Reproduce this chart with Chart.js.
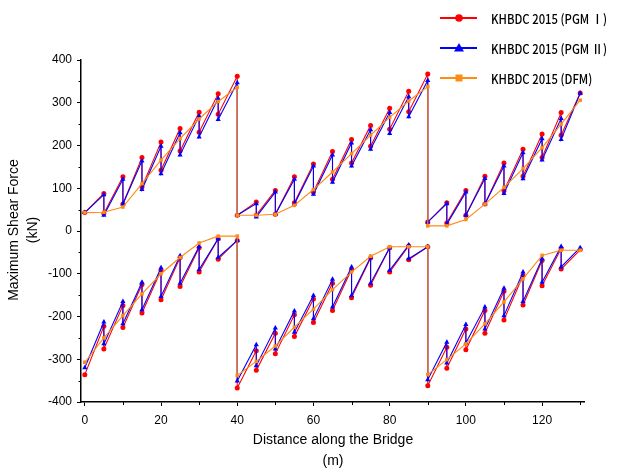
<!DOCTYPE html>
<html>
<head>
<meta charset="utf-8">
<script src="https://cdn.jsdelivr.net/npm/chart.js@4.4.1/dist/chart.umd.min.js"></script>
<style>
  html, body { margin: 0; padding: 0; background: #fff; }
  #wrap { width: 619px; height: 470px; }
</style>
</head>
<body>
<div id="wrap"><canvas id="shearChart" width="619" height="470"></canvas></div>
<script>
// stations along the bridge (m)
var stations = [0, 5, 10, 15, 20, 25, 30, 35, 40, 45, 50, 55, 60, 65, 70, 75, 80, 85, 90, 95, 100, 105, 110, 115, 120, 125, 130];
var xTicks = [0, 20, 40, 60, 80, 100, 120];
var yTicks = [-400, -300, -200, -100, 0, 100, 200, 300, 400];
var seriesNames = ['KHBDC 2015 (PGM \u2160)', 'KHBDC 2015 (PGM \u2161)', 'KHBDC 2015 (DFM)'];

// shear force just left / just right of each station (kN)
// PGM I
var pgm1PosLeft  = [43, 88, 127, 172, 208, 240, 278, 321, 362, 68, 95, 127, 157, 186, 214, 247, 287, 327, 367, 66, 95, 128, 159, 191, 227, 277, 323];
var pgm1PosRight = [43, 41, 63, 103, 142, 187, 231, 273, 37, 37, 39, 66, 91, 121, 159, 198, 238, 279, 21, 19, 37, 63, 94, 128, 172, 224, 323];
var pgm1NegLeft  = [-336, -223, -174, -125, -92, -62, -39, -18, -22, -280, -239, -196, -159, -122, -90, -63, -39, -35, -37, -272, -229, -186, -141, -104, -69, -41, -44];
var pgm1NegRight = [-336, -276, -226, -192, -161, -130, -96, -66, -367, -326, -287, -247, -214, -186, -156, -127, -96, -67, -362, -321, -278, -239, -208, -173, -128, -89, -44];

// PGM II
var pgm2PosLeft  = [43, 85, 121, 164, 198, 230, 269, 310, 347, 64, 91, 121, 152, 178, 206, 237, 277, 314, 352, 64, 91, 123, 152, 183, 216, 263, 322];
var pgm2PosRight = [43, 37, 63, 97, 134, 178, 220, 261, 37, 33, 39, 63, 86, 114, 152, 191, 228, 267, 21, 16, 37, 63, 88, 122, 166, 214, 322];
var pgm2NegLeft  = [-320, -213, -165, -120, -86, -58, -36, -18, -22, -266, -227, -187, -151, -113, -84, -61, -39, -33, -37, -260, -219, -178, -134, -96, -65, -36, -39];
var pgm2NegRight = [-320, -264, -217, -184, -153, -122, -90, -62, -351, -315, -276, -237, -205, -178, -151, -122, -92, -65, -348, -309, -262, -229, -198, -165, -120, -84, -39];

// DFM
var dfmPosLeft  = [43, 44, 56, 111, 166, 216, 262, 303, 336, 37, 39, 60, 97, 138, 181, 224, 266, 304, 338, 12, 27, 63, 102, 146, 195, 250, 306];
var dfmPosRight = [43, 44, 56, 111, 166, 216, 262, 303, 37, 37, 39, 60, 97, 138, 181, 224, 266, 304, 12, 12, 27, 63, 102, 146, 195, 250, 306];
var dfmNegLeft  = [-307, -250, -198, -147, -100, -62, -28, -12, -12, -305, -269, -225, -183, -137, -96, -59, -37, -37, -37, -301, -264, -217, -166, -112, -57, -45, -45];
var dfmNegRight = [-307, -250, -198, -147, -100, -62, -28, -12, -338, -305, -269, -225, -183, -137, -96, -59, -37, -37, -336, -301, -264, -217, -166, -112, -57, -45, -45];

var colors = ['#ff0000', '#0000ff', '#ff8a14'];
var markers = ['circle', 'triangle', 'rect'];

// turn left/right values into a stepped path, positive then negative envelope
function buildPath(left, right, pts) {
  stations.forEach(function (x, i) {
    pts.push({ x: x, y: left[i] });
    if (right[i] !== left[i]) pts.push({ x: x, y: right[i] });
  });
  return pts;
}
function envelope(pL, pR, nL, nR) {
  var pts = buildPath(pL, pR, []);
  pts.push({ x: stations[stations.length - 1], y: null });
  return buildPath(nL, nR, pts);
}

var series = [
  envelope(pgm1PosLeft, pgm1PosRight, pgm1NegLeft, pgm1NegRight),
  envelope(pgm2PosLeft, pgm2PosRight, pgm2NegLeft, pgm2NegRight),
  envelope(dfmPosLeft, dfmPosRight, dfmNegLeft, dfmNegRight)
];
// red at the bottom, then blue, DFM on top
var drawOrder = [3, 2, 1];

var datasets = series.map(function (pts, i) {
  return {
    label: seriesNames[i],
    data: pts,
    borderColor: colors[i],
    backgroundColor: colors[i],
    borderWidth: 1.1,
    pointStyle: markers[i],
    pointRadius: i === 1 ? 3 : 2.5,
    pointBorderWidth: 0,
    tension: 0,
    spanGaps: false,
    order: drawOrder[i]
  };
});

// minor ticks, axis titles and legend
var extras = {
  id: 'extras',
  afterDraw: function (chart) {
    var ctx = chart.ctx;
    var xs = chart.scales.x, ys = chart.scales.y;
    var area = chart.chartArea;
    ctx.save();
    ctx.strokeStyle = '#000';
    ctx.lineWidth = 1;
    ctx.beginPath();
    for (var v = -350; v <= 350; v += 100) {
      var py = Math.round(ys.getPixelForValue(v)) + 0.5;
      ctx.moveTo(area.left - 2.5, py);
      ctx.lineTo(area.left, py);
    }
    for (var m = 10; m <= 130; m += 20) {
      var px = Math.round(xs.getPixelForValue(m)) + 0.5;
      ctx.moveTo(px, area.bottom);
      ctx.lineTo(px, area.bottom + 3);
    }
    ctx.stroke();

    ctx.fillStyle = '#000';
    ctx.font = '14px "Liberation Sans", Arial, sans-serif';
    ctx.textAlign = 'center';
    ctx.textBaseline = 'middle';
    ctx.fillText('Distance along the Bridge', 333, 440);
    ctx.fillText('(m)', 333, 461);
    ctx.save();
    ctx.translate(14, 230);
    ctx.rotate(-Math.PI / 2);
    ctx.fillText('Maximum Shear Force', 0, 0);
    ctx.restore();
    ctx.save();
    ctx.translate(33, 230);
    ctx.rotate(-Math.PI / 2);
    ctx.fillText('(kN)', 0, 0);
    ctx.restore();

    // legend
    var rowsY = [18, 48, 78];
    ctx.textAlign = 'left';
    ctx.font = '500 13px "Noto Sans CJK KR", "Noto Sans", sans-serif';
    rowsY.forEach(function (y, i) {
      ctx.strokeStyle = colors[i];
      ctx.fillStyle = colors[i];
      ctx.lineWidth = 2;
      ctx.beginPath();
      ctx.moveTo(440, y);
      ctx.lineTo(477, y);
      ctx.stroke();
      ctx.beginPath();
      if (i === 0) {
        ctx.arc(459, y, 3.8, 0, Math.PI * 2);
      } else if (i === 1) {
        ctx.moveTo(459, y - 5);
        ctx.lineTo(464, y + 3.5);
        ctx.lineTo(454, y + 3.5);
        ctx.closePath();
      } else {
        ctx.rect(455.5, y - 3.5, 7, 7);
      }
      ctx.fill();
      // the original legend font is narrow, squeeze it horizontally
      ctx.save();
      ctx.translate(491, y + 1);
      ctx.scale(0.87, 1);
      ctx.fillStyle = '#000';
      ctx.fillText(seriesNames[i], 0, 0);
      ctx.restore();
    });
    ctx.restore();
  }
};

var tickFont = { family: '"Liberation Sans", Arial, sans-serif', size: 12 };

var ctx = document.getElementById('shearChart').getContext('2d');
var shearChart = new Chart(ctx, {
  type: 'line',
  data: { datasets: datasets },
  options: {
    responsive: false,
    animation: false,
    layout: { padding: { left: 0, right: 35, top: 60, bottom: 0 }, autoPadding: false },
    plugins: { legend: { display: false }, tooltip: { enabled: false } },
    scales: {
      x: {
        type: 'linear',
        min: -1,
        max: 131,
        afterFit: function (s) { s.height = 68; },
        afterBuildTicks: function (s) { s.ticks = xTicks.map(function (v) { return { value: v }; }); },
        grid: { drawOnChartArea: false, tickLength: 4, tickColor: '#000', tickWidth: 1 },
        border: { color: '#000', width: 1.5 },
        ticks: { color: '#000', font: tickFont, padding: 7, maxRotation: 0, autoSkip: false }
      },
      y: {
        type: 'linear',
        min: -400,
        max: 400,
        afterFit: function (s) { s.width = 81; },
        afterBuildTicks: function (s) { s.ticks = yTicks.map(function (v) { return { value: v }; }); },
        grid: { drawOnChartArea: false, tickLength: 4, tickColor: '#000', tickWidth: 1 },
        border: { color: '#000', width: 1.5 },
        ticks: { color: '#000', font: tickFont, padding: 5, autoSkip: false }
      }
    }
  },
  plugins: [extras]
});
</script>
</body>
</html>
